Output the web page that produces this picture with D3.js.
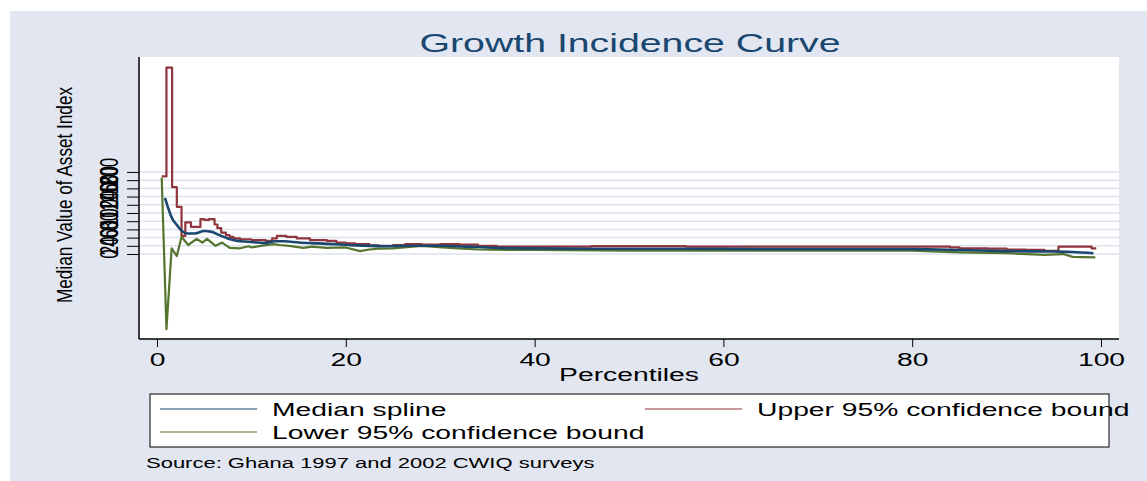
<!DOCTYPE html>
<html>
<head>
<meta charset="utf-8">
<script src="https://cdn.jsdelivr.net/npm/d3@7"></script>
<style>
  body { margin: 0; background: #ffffff; }
  svg { display: block; font-family: "Liberation Sans", Arial, sans-serif; }
</style>
</head>
<body>
<div id="chart"></div>
<script>
// Growth incidence curve
const xTicks = [0, 20, 40, 60, 80, 100];
const yTicks = [0, 20, 40, 60, 80, 100, 120, 140, 160, 180, 200];

// Median spline (smooth)
const medianPct = [0.85, 1.2, 1.6, 2.1, 2.6, 3.2, 4, 5, 5.8, 6.6, 7.5, 8.5, 9.6, 10.7, 11.4, 12.5, 13.5, 15, 17, 19, 21, 24, 27, 30, 33, 35, 38, 45, 55, 65, 75, 80, 85, 90, 95, 97, 99.2];
const medianVal = [137, 111, 87, 71, 57, 50, 50, 56, 54, 46, 38, 32, 30, 28, 27, 31, 31, 28, 26, 24, 21, 19, 20, 20, 18, 16, 14, 13, 13, 12, 12, 12, 10, 7, 6, 5, 2];

// Upper bound (stairstep)
const upperPct = [0.5, 1.0, 1.6, 2.1, 2.6, 3.0, 3.6, 4.6, 5.0, 5.5, 6.1, 6.4, 6.8, 7.3, 7.7, 8.1, 8.8, 10, 11.5, 12.2, 12.7, 13.7, 14.8, 16.2, 18, 19, 20, 21, 22.5, 23.5, 25, 26.3, 28, 30, 32, 34, 36, 46, 56, 84, 85, 88, 90, 92, 94, 95.5, 99, 99.5];
const upperVal = [189, 454, 163, 115, 44, 77, 66, 85, 83, 85, 72, 63, 52, 46, 42, 38, 36, 34, 32, 38, 44, 42, 38, 34, 32, 28, 26, 24, 21, 20, 22, 24, 23, 24, 23, 20, 18, 19.5, 18, 16, 14, 13, 11, 10, 8, 18, 14, 14];

// Lower bound (straight segments)
const lowerPct = [0.5, 1.0, 1.55, 2.1, 2.6, 3.3, 4.2, 4.8, 5.3, 6.2, 6.9, 7.7, 8.8, 9.7, 10, 11, 12.3, 13, 14, 15.5, 16.4, 18, 20, 21.5, 22.5, 23.5, 25, 28, 31, 34, 37, 40, 50, 60, 70, 80, 85, 90, 94, 96, 97, 99.4];
const lowerVal = [186, -183, 14, -5, 42, 22, 37, 28, 37, 20, 28, 15, 14, 19, 16, 20, 24, 22, 20, 15, 18, 15, 16, 7, 11, 13, 14, 20, 15, 11, 10, 10, 8, 8, 8, 8, 4, 2, -2, 0, -7, -8];

const seriesNames = ["Median spline", "Upper 95% confidence bound", "Lower 95% confidence bound"];
const seriesColors = ["#1a476f", "#90353b", "#55752f"];

const W = 1147, H = 481;
const stretch = 1.57; // text in the picture is drawn wide

const svg = d3.select("#chart").append("svg")
	.attr("width", W)
	.attr("height", H);

// outer background
svg.append("rect")
	.attr("x", 10).attr("y", 11)
	.attr("width", W - 10).attr("height", H - 11)
	.attr("fill", "#e1e6f1");

const plot = {left: 139, right: 1119, top: 57, bottom: 339};

svg.append("rect")
	.attr("x", plot.left).attr("y", plot.top)
	.attr("width", plot.right - plot.left).attr("height", plot.bottom - plot.top)
	.attr("fill", "#ffffff");

const x = d3.scaleLinear().domain([0, 100]).range([157, 1101]);
const y = d3.scaleLinear().domain([-207, 480]).range([plot.bottom, plot.top]);

function wide(sel){
	sel.each(function(){
		const len = this.getComputedTextLength();
		d3.select(this)
			.attr("textLength", len * stretch)
			.attr("lengthAdjust", "spacingAndGlyphs");
	});
	return sel;
}

// grid
svg.append("g").selectAll("line")
	.data(yTicks)
	.enter().append("line")
		.attr("x1", plot.left).attr("x2", plot.right)
		.attr("y1", d => y(d)).attr("y2", d => y(d))
		.attr("stroke", "#dde3ee")
		.attr("stroke-width", 1.5);

// y axis
const yAxis = svg.append("g")
	.attr("transform", "translate(" + plot.left + ",0)")
	.call(d3.axisLeft(y).tickValues(yTicks).tickSize(12).tickFormat(""));
yAxis.select(".domain").remove();
yAxis.selectAll(".tick line").attr("stroke", "#000").attr("stroke-width", 1);

// rotated tick labels, glyphs drawn wide like the rest of the picture
svg.append("g").selectAll("text")
	.data(yTicks)
	.enter().append("text")
		.attr("transform", d => "translate(118," + y(d) + ") scale(" + stretch + ",1) rotate(-90)")
		.attr("text-anchor", "middle")
		.attr("font-size", 17)
		.attr("fill", "#000")
		.text(d => d);

svg.append("line")
	.attr("x1", plot.left).attr("x2", plot.left)
	.attr("y1", plot.top).attr("y2", plot.bottom)
	.attr("stroke", "#000").attr("stroke-width", 1.5);

// x axis
const xAxis = svg.append("g")
	.attr("transform", "translate(0," + plot.bottom + ")")
	.call(d3.axisBottom(x).tickValues(xTicks).tickSize(8).tickPadding(6));
xAxis.select(".domain").remove();
xAxis.selectAll(".tick line").attr("stroke", "#000");
xAxis.selectAll(".tick text")
	.attr("font-family", "Liberation Sans, Arial, sans-serif")
	.attr("font-size", 18)
	.attr("fill", "#000")
	.attr("dy", null)
	.attr("y", 27)
	.call(wide);

svg.append("line")
	.attr("x1", plot.left).attr("x2", plot.right)
	.attr("y1", plot.bottom).attr("y2", plot.bottom)
	.attr("stroke", "#000").attr("stroke-width", 1.5);

// lines
const smooth = d3.line().x(d => x(d[0])).y(d => y(d[1])).curve(d3.curveMonotoneX);
const stairs = d3.line().x(d => x(d[0])).y(d => y(d[1])).curve(d3.curveStepAfter);
const straight = d3.line().x(d => x(d[0])).y(d => y(d[1]));

const lines = svg.append("g").attr("fill", "none").attr("stroke-linejoin", "round");
lines.append("path")
	.attr("d", stairs(d3.zip(upperPct, upperVal)))
	.attr("stroke", seriesColors[1])
	.attr("stroke-width", 2.2);
lines.append("path")
	.attr("d", straight(d3.zip(lowerPct, lowerVal)))
	.attr("stroke", seriesColors[2])
	.attr("stroke-width", 2.2);
lines.append("path")
	.attr("d", smooth(d3.zip(medianPct, medianVal)))
	.attr("stroke", seriesColors[0])
	.attr("stroke-width", 2.6);

// titles
svg.append("text")
	.attr("x", 630).attr("y", 52)
	.attr("text-anchor", "middle")
	.attr("font-size", 25)
	.attr("fill", "#1a476f")
	.text("Growth Incidence Curve")
	.call(wide);

svg.append("text")
	.attr("x", 629).attr("y", 381)
	.attr("text-anchor", "middle")
	.attr("font-size", 18)
	.attr("fill", "#000")
	.text("Percentiles")
	.call(wide);

svg.append("text")
	.attr("transform", "translate(72,195) scale(1.25,1) rotate(-90)")
	.attr("text-anchor", "middle")
	.attr("font-size", 17)
	.attr("textLength", 216)
	.attr("lengthAdjust", "spacingAndGlyphs")
	.attr("fill", "#000")
	.text("Median Value of Asset Index");

// legend
svg.append("rect")
	.attr("x", 150).attr("y", 394)
	.attr("width", 959).attr("height", 53)
	.attr("fill", "#ffffff")
	.attr("stroke", "#000")
	.attr("stroke-width", 1);

const legendPos = [[160, 409], [645, 409], [160, 432]];
const legend = svg.append("g").selectAll("g")
	.data(seriesNames)
	.enter().append("g")
		.attr("transform", (d, i) => "translate(" + legendPos[i][0] + "," + legendPos[i][1] + ")");
legend.append("line")
	.attr("x1", 0).attr("x2", 97)
	.attr("stroke", (d, i) => seriesColors[i])
	.attr("stroke-width", 1.2);
legend.append("text")
	.attr("x", 112).attr("y", 7)
	.attr("font-size", 18)
	.attr("fill", "#000")
	.text(d => d)
	.call(wide);

svg.append("text")
	.attr("x", 146).attr("y", 468)
	.attr("font-size", 14)
	.attr("fill", "#000")
	.text("Source: Ghana 1997 and 2002 CWIQ surveys")
	.call(wide);
</script>
</body>
</html>
